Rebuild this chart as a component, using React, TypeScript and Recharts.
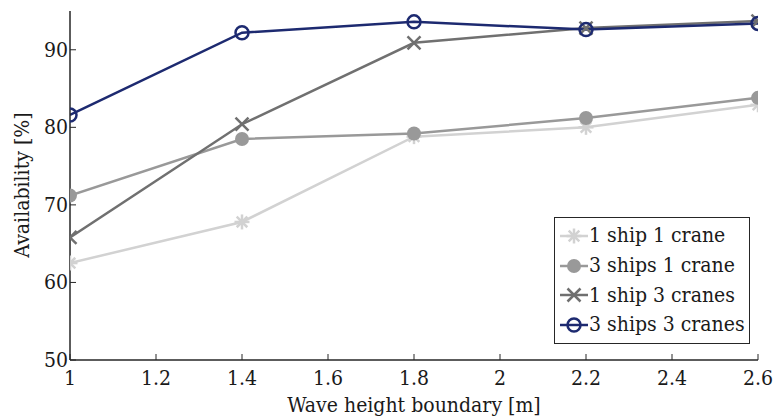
import React from 'react';
import { LineChart, Line, XAxis, YAxis } from 'recharts';

document.body.style.margin = '0';

const waveHeight = [1, 1.4, 1.8, 2.2, 2.6];
const oneShipOneCrane = [62.5, 67.8, 78.8, 80.0, 82.9];
const threeShipsOneCrane = [71.2, 78.5, 79.2, 81.2, 83.8];
const oneShipThreeCranes = [65.8, 80.4, 90.9, 92.8, 93.7];
const threeShipsThreeCranes = [81.6, 92.2, 93.6, 92.6, 93.4];

const xTicks = [1, 1.2, 1.4, 1.6, 1.8, 2, 2.2, 2.4, 2.6];
const yTicks = [50, 60, 70, 80, 90];

const data = waveHeight.map((h, i) => ({
  h,
  s1c1: oneShipOneCrane[i],
  s3c1: threeShipsOneCrane[i],
  s1c3: oneShipThreeCranes[i],
  s3c3: threeShipsThreeCranes[i],
}));

const FONT = '"DejaVu Serif", serif';
const FS = 21;
const AXIS = '#262626';
const NAVY = '#1d2a70';
const DARK = '#707070';
const MID = '#999999';
const LIGHT = '#d2d2d2';

const textStyle: React.CSSProperties = { fontStretch: 'condensed' };

type MarkerKind = 'star' | 'dot' | 'cross' | 'ring';

const Marker = ({ kind, cx, cy, color }: { kind: MarkerKind; cx: number; cy: number; color: string }) => {
  if (kind === 'dot') return <circle cx={cx} cy={cy} r={7} fill={color} stroke="none" />;
  if (kind === 'ring') return <circle cx={cx} cy={cy} r={6.5} fill="none" stroke={color} strokeWidth={2.5} />;
  if (kind === 'cross') {
    const s = 6.5;
    return (
      <g stroke={color} strokeWidth={2.5}>
        <line x1={cx - s} y1={cy - s} x2={cx + s} y2={cy + s} />
        <line x1={cx - s} y1={cy + s} x2={cx + s} y2={cy - s} />
      </g>
    );
  }
  const s = 7.5;
  const d = s * 0.707;
  return (
    <g stroke={color} strokeWidth={2.5}>
      <line x1={cx - s} y1={cy} x2={cx + s} y2={cy} />
      <line x1={cx} y1={cy - s} x2={cx} y2={cy + s} />
      <line x1={cx - d} y1={cy - d} x2={cx + d} y2={cy + d} />
      <line x1={cx - d} y1={cy + d} x2={cx + d} y2={cy - d} />
    </g>
  );
};

const series: { key: string; name: string; color: string; kind: MarkerKind }[] = [
  { key: 's1c1', name: '1 ship 1 crane', color: LIGHT, kind: 'star' },
  { key: 's3c1', name: '3 ships 1 crane', color: MID, kind: 'dot' },
  { key: 's1c3', name: '1 ship 3 cranes', color: DARK, kind: 'cross' },
  { key: 's3c3', name: '3 ships 3 cranes', color: NAVY, kind: 'ring' },
];

const BottomTick = (props: any) => {
  const { x, y, payload } = props;
  return (
    <g>
      <line x1={x} y1={y} x2={x} y2={y - 6} stroke={AXIS} strokeWidth={1} />
      <text x={x} y={y + 25} textAnchor="middle" fontFamily={FONT} fontSize={FS} fill="#1a1a1a" style={textStyle}>
        {payload.value}
      </text>
    </g>
  );
};

const TopTick = (props: any) => {
  const { x, y } = props;
  return <line x1={x} y1={y} x2={x} y2={y + 6} stroke={AXIS} strokeWidth={1} />;
};

const LeftTick = (props: any) => {
  const { x, y, payload } = props;
  return (
    <g>
      <line x1={x} y1={y} x2={x + 6} y2={y} stroke={AXIS} strokeWidth={1} />
      <text x={x - 2} y={y + 7} textAnchor="end" fontFamily={FONT} fontSize={FS} fill="#1a1a1a" style={textStyle}>
        {payload.value}
      </text>
    </g>
  );
};

const RightTick = (props: any) => {
  const { x, y } = props;
  return <line x1={x} y1={y} x2={x - 6} y2={y} stroke={AXIS} strokeWidth={1} />;
};

const LegendBox = () => (
  <div
    style={{
      position: 'absolute',
      left: 554,
      top: 217,
      border: `1px solid ${AXIS}`,
      background: '#fff',
      width: 194,
      padding: '3px 0 3px 0',
      fontFamily: FONT,
      fontSize: FS,
      fontStretch: 'condensed',
      color: '#1a1a1a',
      whiteSpace: 'nowrap',
    }}
  >
    {series.map((s) => (
      <div key={s.key} style={{ display: 'flex', alignItems: 'center', height: 29.7 }}>
        <svg width={31} height={20} style={{ marginLeft: 3 }}>
          <line x1={2} y1={10} x2={30} y2={10} stroke={s.color} strokeWidth={2.5} />
          <Marker kind={s.kind} cx={16} cy={10} color={s.color} />
        </svg>
        <span style={{ lineHeight: '21px' }}>{s.name}</span>
      </div>
    ))}
  </div>
);

export default function App() {
  return (
    <div style={{ position: 'relative', width: 783, height: 418, background: '#fff' }}>
      <LineChart width={783} height={418} data={data} margin={{ top: 11, right: 25, bottom: 18, left: 0 }}>
        <XAxis
          xAxisId="b"
          dataKey="h"
          type="number"
          domain={[1, 2.6]}
          ticks={xTicks}
          allowDataOverflow
          height={40}
          tickSize={0}
          tickMargin={0}
          tickLine={false}
          tick={<BottomTick />}
          axisLine={{ stroke: AXIS, strokeWidth: 1.5 }}
          interval={0}
        />
        <XAxis
          xAxisId="t"
          dataKey="h"
          type="number"
          orientation="top"
          domain={[1, 2.6]}
          ticks={xTicks}
          allowDataOverflow
          height={0}
          tickSize={0}
          tickMargin={0}
          tickLine={false}
          tick={<TopTick />}
          axisLine={{ stroke: AXIS, strokeWidth: 1.5 }}
          interval={0}
        />
        <YAxis
          yAxisId="l"
          type="number"
          domain={[50, 95]}
          ticks={yTicks}
          allowDataOverflow
          width={70}
          tickSize={0}
          tickMargin={0}
          tickLine={false}
          tick={<LeftTick />}
          axisLine={{ stroke: AXIS, strokeWidth: 1.5 }}
          interval={0}
        />
        <YAxis
          yAxisId="r"
          type="number"
          orientation="right"
          domain={[50, 95]}
          ticks={yTicks}
          allowDataOverflow
          width={0}
          tickSize={0}
          tickMargin={0}
          tickLine={false}
          tick={<RightTick />}
          axisLine={{ stroke: AXIS, strokeWidth: 1.5 }}
          interval={0}
        />
        {series.map((s) => (
          <Line
            key={s.key}
            xAxisId="b"
            yAxisId="l"
            dataKey={s.key}
            name={s.name}
            stroke={s.color}
            strokeWidth={2.5}
            isAnimationActive={false}
            dot={(p: any) => <Marker key={`${s.key}-${p.index}`} kind={s.kind} cx={p.cx} cy={p.cy} color={s.color} />}
            activeDot={false}
          />
        ))}
      </LineChart>
      <LegendBox />
      <div
        style={{
          position: 'absolute',
          left: 0,
          top: 393,
          width: 828,
          textAlign: 'center',
          fontFamily: FONT,
          fontSize: FS,
          fontStretch: 'condensed',
          color: '#1a1a1a',
          lineHeight: '24px',
        }}
      >
        Wave height boundary [m]
      </div>
      <div
        style={{
          position: 'absolute',
          left: 22,
          top: 185,
          transform: 'translate(-50%, -50%) rotate(-90deg)',
          whiteSpace: 'nowrap',
          fontFamily: FONT,
          fontSize: FS,
          fontStretch: 'condensed',
          color: '#1a1a1a',
          lineHeight: '24px',
        }}
      >
        Availability [%]
      </div>
    </div>
  );
}
